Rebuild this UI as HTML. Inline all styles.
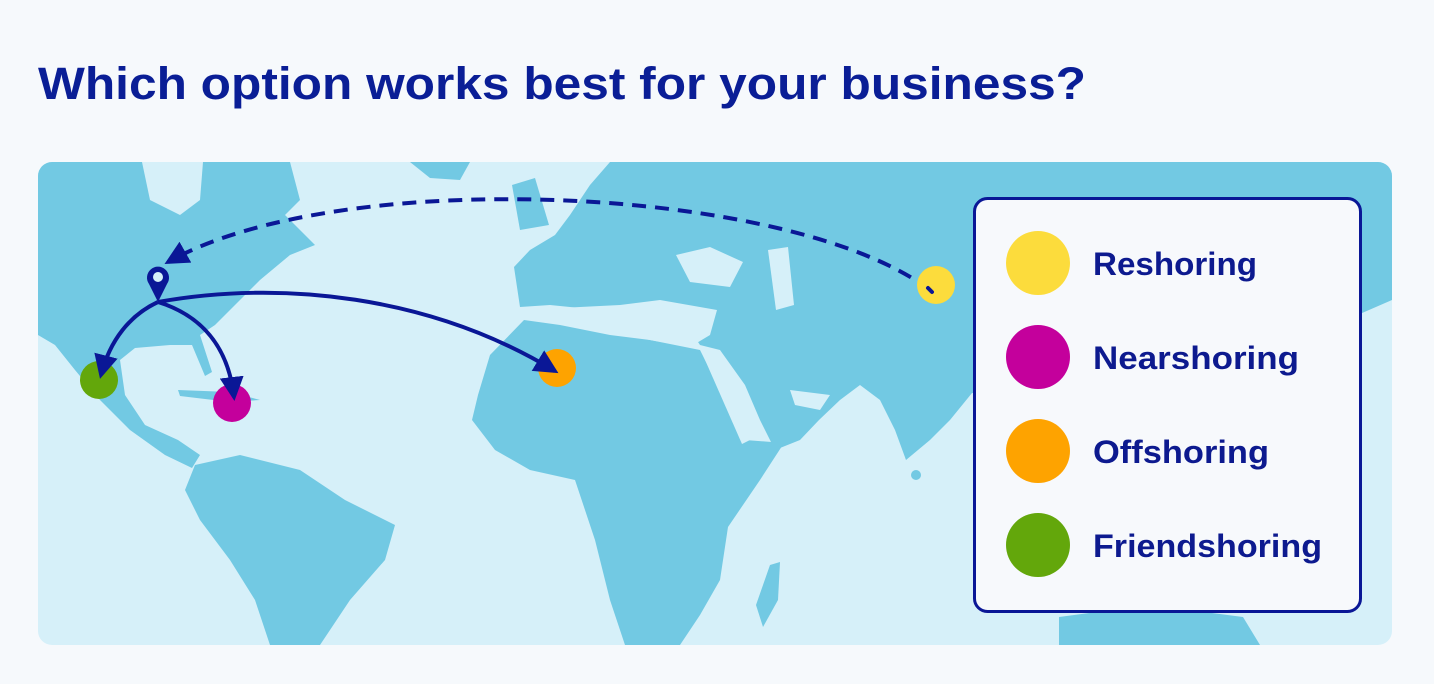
<!DOCTYPE html>
<html><head><meta charset="utf-8"><style>
html,body{margin:0;padding:0;background:#f6f9fc;}
body{width:1434px;height:684px;overflow:hidden;position:relative;font-family:"Liberation Sans",sans-serif;}
</style></head><body>
<svg width="1434" height="684" viewBox="0 0 1434 684" xmlns="http://www.w3.org/2000/svg" style="position:absolute;left:0;top:0">
<text x="38" y="99" font-size="45" font-weight="bold" fill="#0a1e96" textLength="1048" lengthAdjust="spacingAndGlyphs">Which option works best for your business?</text>
<defs><clipPath id="c"><rect x="38" y="162" width="1354" height="483" rx="14"/></clipPath>
<marker id="ah" markerWidth="24" markerHeight="24" refX="20" refY="12" orient="auto" markerUnits="userSpaceOnUse" viewBox="0 0 24 24"><path d="M0,0 L24,12 L0,24 z" fill="#0a1796"/></marker></defs>
<rect x="38" y="162" width="1354" height="483" rx="14" fill="#d6f0f9"/>
<g clip-path="url(#c)" fill="#72c9e3">
<!-- North America -->
<path d="M38,162 L290,162 L300,200 L285,215 L300,230 L315,245 L290,255 L260,280 L240,300 L215,325 L200,335 L212,372 L205,376 L192,345 L170,345 L135,348 L120,360 L125,395 L145,425 L178,440 L200,455 L192,468 L165,455 L130,430 L100,400 L75,370 L55,345 L38,335 Z"/>
<path d="M142,162 L203,162 L200,200 L180,215 L150,200 Z" fill="#d6f0f9"/>
<path d="M178,390 L230,392 L260,400 L230,402 L180,396 Z"/>
<!-- South America -->
<path d="M195,465 L240,455 L300,470 L345,500 L395,525 L385,560 L350,600 L320,645 L270,645 L255,600 L230,560 L200,520 L185,490 Z"/>
<!-- Greenland-ish top -->
<path d="M410,162 L470,162 L460,180 L430,178 Z"/>
<!-- UK -->
<path d="M512,185 L535,178 L549,225 L520,230 Z"/>
<!-- Eurasia -->
<path d="M514,267 L530,250 L555,235 L570,215 L590,185 L610,162 L1392,162 L1392,300 L1300,340 L1200,370 L1100,390 L1000,395 L972,393 L950,420 L930,440 L906,460 L895,430 L880,400 L860,385 L840,400 L819,420 L800,440 L775,450 L760,420 L745,385 L720,350 L700,345 L690,330 L660,320 L620,320 L600,310 L550,305 L520,307 Z"/>
<!-- Africa -->
<path d="M478,395 L490,355 L524,320 L560,325 L610,335 L650,340 L700,350 L720,390 L745,440 L784,443 L760,480 L728,527 L720,580 L700,615 L680,645 L625,645 L610,600 L595,540 L575,480 L530,470 L495,450 L472,420 Z"/>
<!-- Madagascar -->
<path d="M770,565 L780,562 L778,600 L763,627 L756,605 Z"/>
<!-- Sri Lanka -->
<circle cx="916" cy="475" r="5"/>
<!-- Australia -->
<path d="M1059,617 L1150,605 L1243,617 L1260,645 L1059,645 Z"/>
</g>
<!-- inland seas -->
<g fill="#d6f0f9">
<path d="M524,315 L560,308 L620,305 L660,300 L717,310 L710,335 L690,347 L650,340 L600,330 L550,320 Z"/>
<path d="M676,255 L710,247 L743,262 L730,287 L690,282 Z"/>
<path d="M768,250 L788,247 L794,305 L776,310 Z"/>
<path d="M702,353 L712,353 L750,440 L742,444 Z"/>
<path d="M790,390 L830,395 L820,410 L795,405 Z"/>
</g>
<!-- dashed arc -->
<path d="M930,290 C790,185 340,165 168,262" fill="none" stroke="#0a1796" stroke-width="4" stroke-dasharray="14,9" marker-end="url(#ah)"/>
<!-- dots -->
<circle cx="936" cy="285" r="19" fill="#fcdc3c"/>
<circle cx="232" cy="403" r="19" fill="#c4009c"/>
<circle cx="557" cy="368" r="19" fill="#fea300"/>
<circle cx="99" cy="380" r="19" fill="#63a70b"/>
<path d="M928,288 L932,292" stroke="#0a1796" stroke-width="4" stroke-linecap="round"/>
<!-- arrows -->
<g fill="none" stroke="#0a1796" stroke-width="4">
<path d="M158,302 C130,315 110,340 101,375" marker-end="url(#ah)"/>
<path d="M158,302 C200,315 228,345 234,397" marker-end="url(#ah)"/>
<path d="M158,302 C280,280 430,295 555,371" marker-end="url(#ah)"/>
</g>
<!-- pin -->
<path d="M158,302 L149,284 A11,11 0 1 1 167,284 Z" fill="#0a1796"/>
<circle cx="158" cy="277" r="5" fill="#d6f0f9"/>
<!-- legend -->
<rect x="974.5" y="198.5" width="386" height="413" rx="13" fill="#f7f9fc" stroke="#0a1796" stroke-width="3"/>
<circle cx="1038" cy="263" r="32" fill="#fcdc3c"/>
<circle cx="1038" cy="357" r="32" fill="#c4009c"/>
<circle cx="1038" cy="451" r="32" fill="#fea300"/>
<circle cx="1038" cy="545" r="32" fill="#63a70b"/>
<g font-size="32" font-weight="bold" fill="#0d1a8f">
<text x="1093" y="275" textLength="164" lengthAdjust="spacingAndGlyphs">Reshoring</text>
<text x="1093" y="369" textLength="206" lengthAdjust="spacingAndGlyphs">Nearshoring</text>
<text x="1093" y="463" textLength="176" lengthAdjust="spacingAndGlyphs">Offshoring</text>
<text x="1093" y="557" textLength="229" lengthAdjust="spacingAndGlyphs">Friendshoring</text>
</g>
</svg>
</body></html>
